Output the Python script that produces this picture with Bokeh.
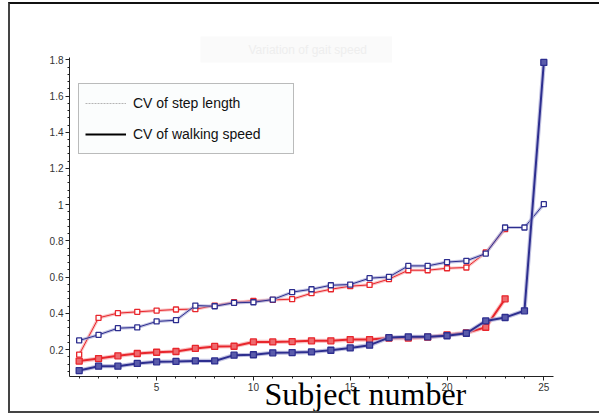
from bokeh.plotting import figure
from bokeh.models import Legend, LegendItem, Title, FixedTicker, Range1d
from bokeh.embed import file_html
from bokeh.resources import INLINE

# ---------------- data ----------------
subjects_red = [1, 2, 3, 4, 5, 6, 7, 8, 9, 10, 11, 12, 13, 14, 15, 16, 17, 18, 19, 20, 21, 22, 23]
subjects_blue = [1, 2, 3, 4, 5, 6, 7, 8, 9, 10, 11, 12, 13, 14, 15, 16, 17, 18, 19, 20, 21, 22, 23, 24, 25]

step_red = [0.172, 0.375, 0.401, 0.408, 0.415, 0.421, 0.423, 0.443, 0.461, 0.469, 0.474, 0.478,
            0.511, 0.533, 0.550, 0.557, 0.589, 0.638, 0.638, 0.649, 0.653, 0.736, 0.865]
step_blue = [0.250, 0.281, 0.318, 0.322, 0.355, 0.362, 0.443, 0.439, 0.458, 0.461, 0.476, 0.517,
             0.533, 0.555, 0.559, 0.594, 0.601, 0.662, 0.662, 0.683, 0.690, 0.730, 0.874, 0.874, 1.003]
speed_red = [0.136, 0.150, 0.165, 0.178, 0.185, 0.189, 0.206, 0.217, 0.218, 0.242, 0.242, 0.244,
             0.248, 0.248, 0.255, 0.255, 0.263, 0.263, 0.268, 0.281, 0.292, 0.323, 0.480]
speed_blue = [0.084, 0.108, 0.108, 0.123, 0.132, 0.134, 0.137, 0.137, 0.169, 0.171, 0.182, 0.183,
              0.187, 0.196, 0.209, 0.224, 0.266, 0.270, 0.270, 0.276, 0.290, 0.358, 0.377, 0.414, 1.786]

y_ticks = [0.2, 0.4, 0.6, 0.8, 1.0, 1.2, 1.4, 1.6, 1.8]
y_tick_labels = ["0.2", "0.4", "0.6", "0.8", "1", "1.2", "1.4", "1.6", "1.8"]
x_ticks = [5, 10, 15, 20, 25]

title_text = "Variation of gait speed"
xlabel_text = "Subject number"
legend_labels = ["CV of step length", "CV of walking speed"]

# ---------------- figure ----------------
RED = "#e8262c"
BLUE = "#2d2e8f"
RED_HALO = "#f6a9ab"
BLUE_HALO = "#a9aad6"

p = figure(width=591, height=411, output_backend="svg", toolbar_location=None,
           x_range=Range1d(0.5, 25.5), y_range=Range1d(0.051, 1.813),
           min_border_left=59, min_border_right=48, min_border_top=53, min_border_bottom=39)
p.title.visible = False
p.background_fill_color = "white"
p.border_fill_color = "white"
p.outline_line_color = None
p.xgrid.visible = False
p.ygrid.visible = False
p.styles = {"margin-left": "8px", "margin-top": "2px",
            "border-left": "2px solid #444444", "border-bottom": "2px solid #444444",
            "border-top": "2px solid #111111"}

for ax in (p.xaxis[0], p.yaxis[0]):
    ax.axis_line_color = "#222222"
    ax.axis_line_width = 1
    ax.major_tick_line_color = "#222222"
    ax.minor_tick_line_color = "#222222"
    ax.major_tick_in = 0
    ax.minor_tick_in = 0
    ax.major_tick_out = 4
    ax.minor_tick_out = 2
    ax.major_label_text_font = "Liberation Sans"
    ax.major_label_text_font_size = "10px"
    ax.major_label_text_color = "#333333"
    ax.major_label_standoff = 2

p.yaxis[0].ticker = FixedTicker(ticks=y_ticks,
                                minor_ticks=[round(0.04 * i, 2) for i in range(2, 46)])
p.yaxis[0].major_label_overrides = {t: s for t, s in zip(y_ticks, y_tick_labels)}
p.xaxis[0].ticker = FixedTicker(ticks=x_ticks, minor_ticks=subjects_blue)

# series (halo underneath, then line, then markers)
def series(x, y, col, halo, lw, size, fill):
    p.line(x, y, line_color=halo, line_width=lw + 2.2, line_alpha=0.7)
    p.line(x, y, line_color=col, line_width=lw)
    p.scatter(x, y, marker="square", size=size, line_color=col, line_width=1.3,
              fill_color=fill)

series(subjects_red, step_red, RED, RED_HALO, 1.0, 5, "white")
series(subjects_red, speed_red, RED, RED_HALO, 2.0, 6, "#ee6a6e")
series(subjects_blue, step_blue, BLUE, BLUE_HALO, 1.0, 5, "white")
series(subjects_blue, speed_blue, BLUE, BLUE_HALO, 2.0, 6, "#5a5bab")

# legend (style-only entries as in the original)
nan = float("nan")
r_step = p.line([nan, nan], [nan, nan], line_color="#b4b4b4", line_width=1, line_dash="2 1")
r_speed = p.line([nan, nan], [nan, nan], line_color="black", line_width=2)
legend = Legend(items=[LegendItem(label=legend_labels[0], renderers=[r_step]),
                       LegendItem(label=legend_labels[1], renderers=[r_speed])],
                location=(9, 222), orientation="vertical",
                padding=6, spacing=5, margin=0,
                glyph_width=41, glyph_height=26, label_height=26, label_width=154,
                label_standoff=7,
                label_text_font="Liberation Sans", label_text_font_size="14px",
                label_text_color="#111111",
                border_line_color="#7a7a7a", border_line_width=1.5,
                background_fill_color="#fbfdfd", background_fill_alpha=1.0)
p.add_layout(legend, "center")

# faint title (above)
p.add_layout(Title(text=title_text, align="left", offset=131, standoff=-10,
                   text_font="Liberation Sans", text_font_size="12px", text_font_style="normal",
                   text_color="#eeeeee", background_fill_color="#fafafa",
                   padding={"left": 48, "right": 25, "top": 6, "bottom": 6}), "above")

# x-axis label (below, overlapping the tick labels as in the original)
p.add_layout(Title(text=xlabel_text, align="left", offset=195, standoff=-35,
                   vertical_align="top",
                   text_font="Liberation Serif", text_font_size="32px", text_font_style="normal",
                   text_color="black"), "below")

open("out.html", "w").write(file_html(p, INLINE))
